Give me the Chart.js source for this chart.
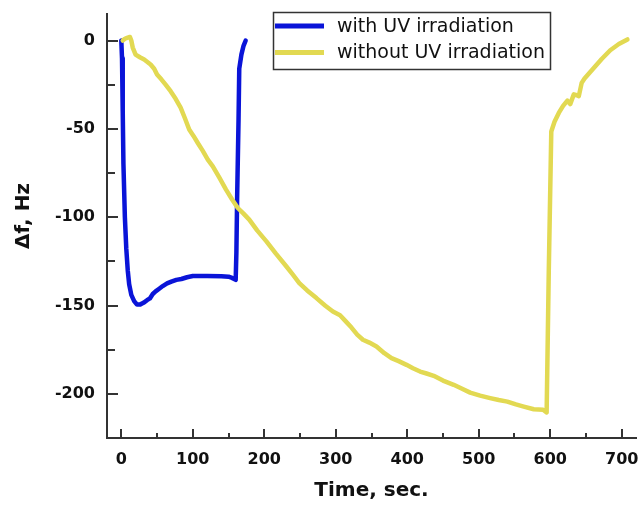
<!DOCTYPE html>
<html>
<head>
<meta charset="utf-8">
<script src="https://cdn.jsdelivr.net/npm/chart.js@4.4.1/dist/chart.umd.min.js"></script>
<style>
  html, body { margin: 0; padding: 0; background: #ffffff; }
  #wrap { width: 639px; height: 506px; }
</style>
</head>
<body>
<div id="wrap"><canvas id="c" width="639" height="506"></canvas></div>
<script>
// ---- data ----
const seriesLabels = ['with UV irradiation', 'without UV irradiation'];

const uvTime = [0, 1, 2, 3, 5, 7, 9, 11, 14, 18, 22, 26, 31, 36, 40, 44, 48, 53, 58, 64, 70, 77, 84, 92, 100, 120, 140, 150, 155, 160, 161, 162, 164, 165, 168, 171, 174];
const uvDf   = [0, -10, -40, -70, -100, -118, -130, -138, -144, -147.5, -149.5, -149.5, -148.5, -147, -146, -143.5, -142, -140.5, -139, -137.5, -136.5, -135.5, -135, -134, -133.3, -133.3, -133.5, -133.7, -134.4, -135.5, -120, -90, -45, -16, -8, -3, 0];

const noUvTime = [2, 5, 8, 12, 14, 16, 20, 26, 32, 41, 46, 50, 56, 62, 69, 76, 83, 89, 95, 101, 107, 114, 121, 128, 137, 146.5, 155, 163, 171, 179, 190, 203, 216, 231, 240, 249, 260, 273, 285, 296, 306, 314, 322, 330, 338, 347, 357, 368, 378, 388, 399, 408, 418, 427, 437, 450, 465, 476, 488, 502, 516, 528, 540, 552, 563, 577, 590, 595, 598, 601.5, 606, 612, 618, 624, 628, 633, 637, 640, 644, 648, 660, 672, 684, 696, 708];
const noUvDf   = [0, 1, 1.5, 2, 0, -4, -8, -9.5, -10.8, -13.6, -16, -19.3, -22, -25, -28.7, -33, -38, -44, -50.4, -54, -58, -62.5, -67.4, -71.2, -77.5, -84.4, -90, -94.8, -98, -101.4, -107.5, -113.7, -120.5, -127.9, -132.5, -137.3, -141.5, -145.8, -150, -153.4, -155.5, -159, -162.5, -166.5, -169.4, -171, -173.2, -177, -179.8, -181.5, -183.6, -185.5, -187.4, -188.5, -189.8, -192.5, -194.9, -197, -199.3, -201, -202.4, -203.5, -204.4, -206, -207.2, -208.7, -209, -210.5, -130, -51.5, -46, -41, -37, -34, -36, -30.5, -31, -31.5, -24, -21.5, -16, -10.5, -5.5, -2, 0.6];

const xTicks = [0, 100, 200, 300, 400, 500, 600, 700];
const xMinorTicks = [50, 150, 250, 350, 450, 550, 650];
const yTicks = [0, -50, -100, -150, -200];
const yMinorTicks = [-25, -75, -125, -175];
const xTitle = 'Time, sec.';
const yTitle = '\u0394f, Hz';

// ---- styles ----
const BLUE = '#0a14d8';
const YELLOW = '#e2d952';
const AXIS = '#333333';
const FONT = 'DejaVu Sans';

const zip = (xs, ys) => xs.map((x, i) => ({ x: x, y: ys[i] }));

const inwardTicks = {
  id: 'inwardTicks',
  afterDatasetsDraw(chart) {
    const ctx = chart.ctx;
    const xs = chart.scales.x, ys = chart.scales.y;
    const area = chart.chartArea;
    ctx.save();
    ctx.strokeStyle = AXIS;
    ctx.lineWidth = 2;
    ctx.beginPath();
    const draw = (vals, len, horiz) => {
      vals.forEach(v => {
        if (horiz) {
          const px = Math.round(xs.getPixelForValue(v));
          ctx.moveTo(px, area.bottom);
          ctx.lineTo(px, area.bottom - len);
        } else {
          const py = Math.round(ys.getPixelForValue(v));
          ctx.moveTo(area.left, py);
          ctx.lineTo(area.left + len, py);
        }
      });
    };
    draw(xTicks, 9, true);
    draw(xMinorTicks, 5, true);
    draw(yTicks, 11, false);
    draw(yMinorTicks, 8, false);
    ctx.stroke();
    ctx.restore();
  }
};

const extras = {
  id: 'extras',
  afterDraw(chart) {
    const ctx = chart.ctx;
    ctx.save();
    // y axis title
    ctx.translate(24, 216);
    ctx.rotate(-Math.PI / 2);
    ctx.fillStyle = '#111111';
    ctx.font = 'bold 20px "' + FONT + '"';
    ctx.textAlign = 'center';
    ctx.textBaseline = 'middle';
    ctx.fillText(yTitle, 0, 0);
    ctx.restore();

    // legend box
    ctx.save();
    ctx.strokeStyle = AXIS;
    ctx.lineWidth = 1.5;
    ctx.strokeRect(273.5, 12.5, 277, 57);
    const rows = [26, 52.5];
    chart.data.datasets.forEach((ds, i) => {
      ctx.strokeStyle = ds.borderColor;
      ctx.lineWidth = 5;
      ctx.beginPath();
      ctx.moveTo(275, rows[i]);
      ctx.lineTo(324, rows[i]);
      ctx.stroke();
      ctx.fillStyle = '#111111';
      ctx.font = '19px "' + FONT + '"';
      ctx.textAlign = 'left';
      ctx.textBaseline = 'middle';
      ctx.fillText(ds.label, 337, rows[i] + 1);
    });
    ctx.restore();
  }
};

new Chart(document.getElementById('c'), {
  type: 'line',
  data: {
    datasets: [
      { label: seriesLabels[0], data: zip(uvTime, uvDf), borderColor: BLUE, backgroundColor: BLUE, borderWidth: 4.5, pointRadius: 0, tension: 0, fill: false, order: 1, borderJoinStyle: 'round', borderCapStyle: 'round' },
      { label: seriesLabels[1], data: zip(noUvTime, noUvDf), borderColor: YELLOW, backgroundColor: YELLOW, borderWidth: 4.5, pointRadius: 0, tension: 0, fill: false, order: 0, borderJoinStyle: 'round', borderCapStyle: 'round' }
    ]
  },
  options: {
    responsive: false,
    animation: false,
    devicePixelRatio: 1,
    layout: { padding: { top: 14, right: 3, bottom: 0, left: 0 } },
    plugins: { legend: { display: false }, tooltip: { enabled: false } },
    scales: {
      x: {
        type: 'linear',
        min: -20, max: 720,
        afterFit(s) { s.height = 68; s.paddingLeft = 0; s.paddingRight = 0; },
        afterBuildTicks(s) { s.ticks = xTicks.map(v => ({ value: v })); },
        grid: { display: false, drawTicks: false },
        border: { display: true, color: AXIS, width: 2 },
        ticks: { padding: 12, color: '#111111', font: { family: FONT, size: 16, weight: 'bold' }, maxRotation: 0, autoSkip: false },
        title: { display: true, text: xTitle, color: '#111111', font: { family: FONT, size: 20, weight: 'bold' }, padding: { top: 0, bottom: 3 } }
      },
      y: {
        type: 'linear',
        min: -225, max: 15,
        afterFit(s) { s.width = 107; s.paddingTop = 0; s.paddingBottom = 0; },
        afterBuildTicks(s) { s.ticks = yTicks.map(v => ({ value: v })); },
        grid: { display: false, drawTicks: false },
        border: { display: true, color: AXIS, width: 2 },
        ticks: { padding: 12, color: '#111111', font: { family: FONT, size: 16, weight: 'bold' }, autoSkip: false },
        title: { display: false }
      }
    }
  },
  plugins: [inwardTicks, extras]
});
</script>
</body>
</html>
